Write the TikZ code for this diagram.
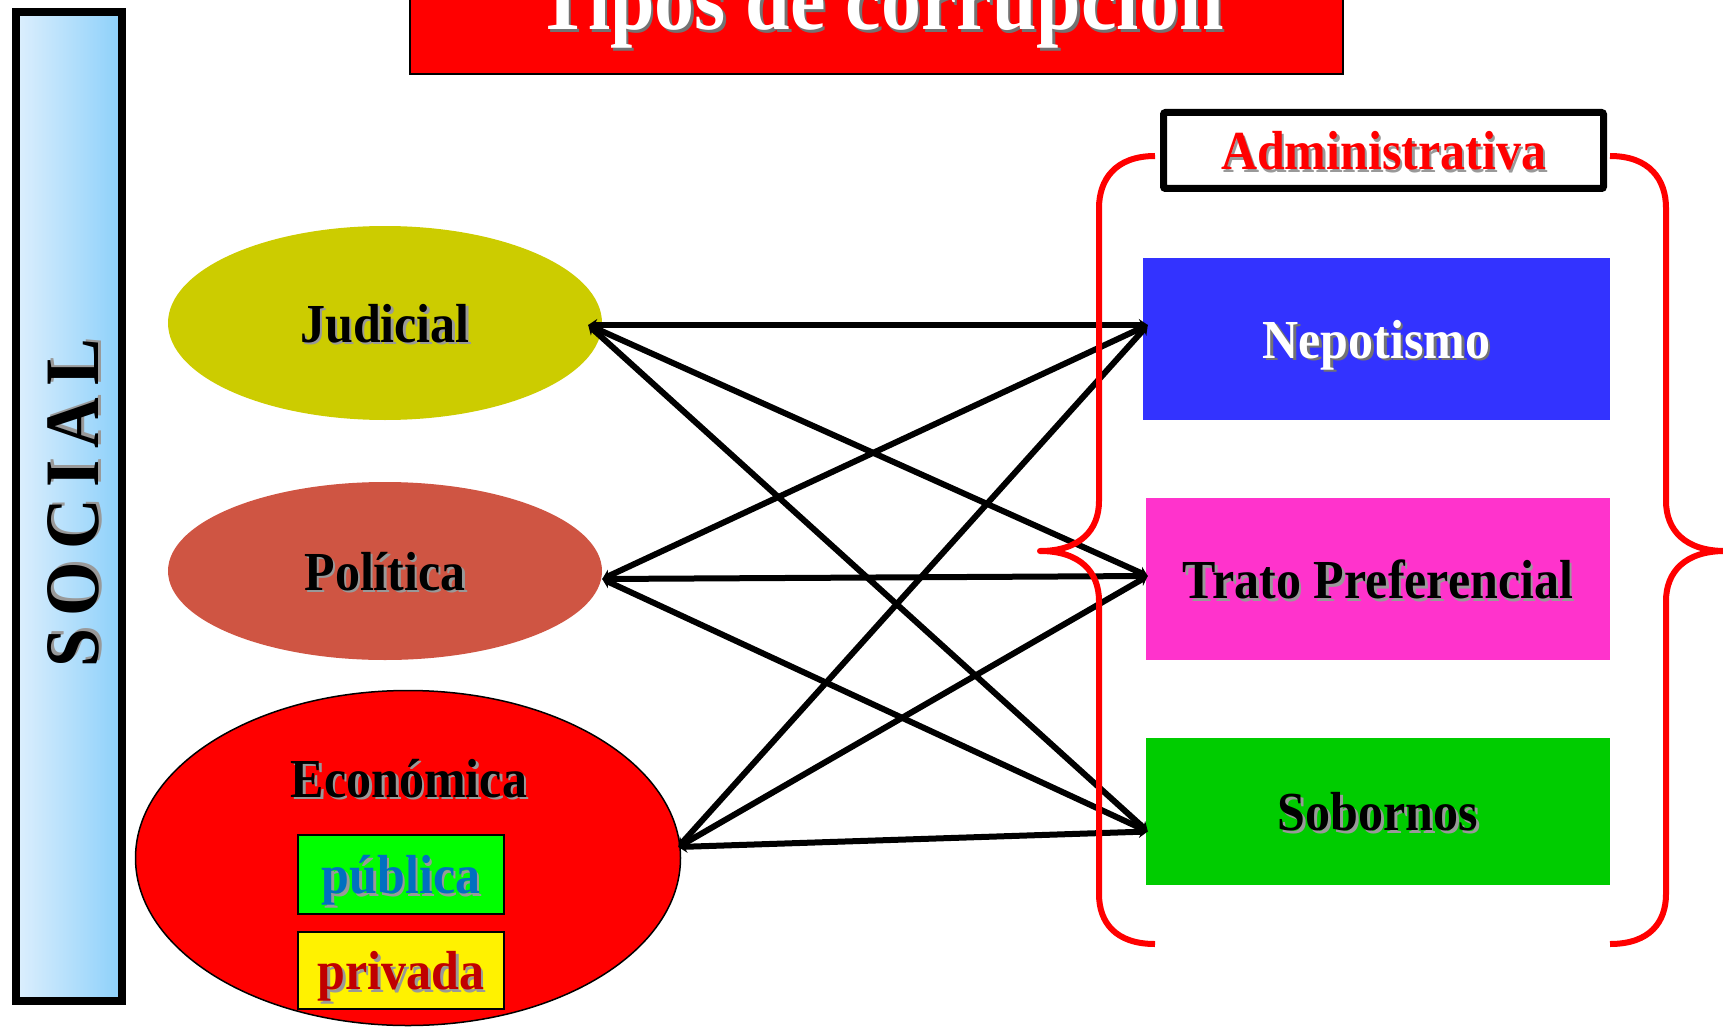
\documentclass[tikz,border=0pt]{standalone}
\usepackage{fontspec}
\setmainfont{Liberation Serif}
\usepackage{tikz}
\usetikzlibrary{arrows.meta}
\usetikzlibrary{shapes.geometric}

\definecolor{oliva}{HTML}{CCCC00}
\definecolor{teja}{HTML}{CF5543}
\definecolor{azulnep}{HTML}{3333FF}
\definecolor{rosatrato}{HTML}{FF33CC}
\definecolor{verdesob}{HTML}{00CC00}
\definecolor{verdepub}{HTML}{00FF00}
\definecolor{azulpub}{HTML}{0070C0}
\definecolor{rojopriv}{HTML}{C00000}
\definecolor{celesteA}{HTML}{DDEFFD}
\definecolor{celesteB}{HTML}{8CD0FA}

% texto con sombra (algo estirado en vertical)
\newcommand{\sombra}[2][black!40]{\scalebox{1}[1.1]{\makebox[0pt][l]{\hspace{2.5pt}\raisebox{-2.5pt}{\textcolor{#1}{#2}}}#2}}

\begin{document}
\begin{tikzpicture}[x=1pt,y=-1pt]
\tikzstyle{every node}=[font=\bfseries\fontsize{50}{60}\selectfont, inner sep=0pt, text depth=0pt]
\tikzstyle{tipo}=[ellipse]
\tikzstyle{caja}=[rectangle]
\tikzstyle{enlace}=[line width=6pt, {Stealth[length=9pt,width=12pt]}-{Stealth[length=9pt,width=12pt]}]
\tikzstyle{llave}=[red, line width=6pt, line join=round]
\useasboundingbox (0,0) rectangle (1723,1027);
\clip (0,0) rectangle (1723,1027);

% columna social
\node (social) [draw, line width=8pt, left color=celesteA, right color=celesteB, minimum width=106pt, minimum height=989pt] at (69,506.5) {};
\node (socialtxt) [rotate=90, font=\bfseries\fontsize{70}{80}\selectfont] at (73,503) {\sombra{S\hspace{12pt}O\hspace{12pt}C\hspace{12pt}I\hspace{12pt}A\hspace{12pt}L}};

% titulo
\node (titulo) [draw, line width=2.5pt, fill=red, minimum width=933pt, minimum height=140pt] at (876.5,4) {};
\node (titulotxt) [anchor=base, text=white, font=\bfseries\fontsize{80}{90}\selectfont] at (880,30) {\sombra[black!55]{Tipos de corrupción}};

% tipos (izquierda)
\node (jud) [tipo, fill=oliva, minimum width=434pt, minimum height=194pt] at (385,323) {\sombra{Judicial}};
\node (pol) [tipo, fill=teja, minimum width=434pt, minimum height=178pt] at (385,571) {\sombra{Política}};
\node (eco) [tipo, draw, line width=1.5pt, fill=red, minimum width=545pt, minimum height=335pt] at (408,858) {};
\node (ecotxt) [anchor=base] at (409,797) {\sombra{Económica}};
\node (pub) [draw, line width=2pt, fill=verdepub, text=azulpub, minimum width=206pt, minimum height=79pt] at (401,874.5) {\sombra{pública}};
\node (priv) [draw, line width=2pt, fill=yellow, text=rojopriv, minimum width=206pt, minimum height=77pt] at (401,970.5) {\sombra{privada}};

% administrativa (derecha)
\node (admin) [draw, line width=7pt, rounded corners=2pt, fill=white, text=red, minimum width=440pt, minimum height=76pt] at (1383.5,150.5) {\sombra{Administrativa}};
\node (nep) [caja, fill=azulnep, text=white, minimum width=467pt, minimum height=162pt] at (1376.5,339) {\sombra[black!55]{Nepotismo}};
\node (trato) [caja, fill=rosatrato, minimum width=464pt, minimum height=162pt] at (1378,579) {\sombra{Trato Preferencial}};
\node (sob) [caja, fill=verdesob, minimum width=464pt, minimum height=147pt] at (1378,811.5) {\sombra{Sobornos}};

% enlaces
\draw [enlace] ([xshift=-14pt,yshift=-2pt]jud.east) -- ([xshift=5pt,yshift=14pt]nep.west);
\draw [enlace] ([xshift=-14pt,yshift=-2pt]jud.east) -- ([xshift=2pt,yshift=3pt]trato.west);
\draw [enlace] ([xshift=-14pt,yshift=-2pt]jud.east) -- ([xshift=2pt,yshift=-20pt]sob.west);
\draw [enlace] ([yshift=-8pt]pol.east) -- ([xshift=5pt,yshift=14pt]nep.west);
\draw [enlace] ([yshift=-8pt]pol.east) -- ([xshift=2pt,yshift=3pt]trato.west);
\draw [enlace] ([yshift=-8pt]pol.east) -- ([xshift=2pt,yshift=-20pt]sob.west);
\draw [enlace] ([xshift=-3pt,yshift=11pt]eco.east) -- ([xshift=5pt,yshift=14pt]nep.west);
\draw [enlace] ([xshift=-3pt,yshift=11pt]eco.east) -- ([xshift=2pt,yshift=3pt]trato.west);
\draw [enlace] ([xshift=-3pt,yshift=11pt]eco.east) -- ([xshift=2pt,yshift=-20pt]sob.west);

% llaves
\draw [llave] (1155,156) .. controls (1115,156) and (1099,180) .. (1099,208) -- (1099,501) .. controls (1099,530) and (1080,551) .. (1040,551) .. controls (1080,551) and (1099,572) .. (1099,601) -- (1099,894) .. controls (1099,922) and (1115,944) .. (1155,944);
\draw [llave] (1610,156) .. controls (1650,156) and (1666,180) .. (1666,208) -- (1666,501) .. controls (1666,530) and (1685,551) .. (1725,551) .. controls (1685,551) and (1666,572) .. (1666,601) -- (1666,894) .. controls (1666,922) and (1650,944) .. (1610,944);
\end{tikzpicture}
\end{document}
